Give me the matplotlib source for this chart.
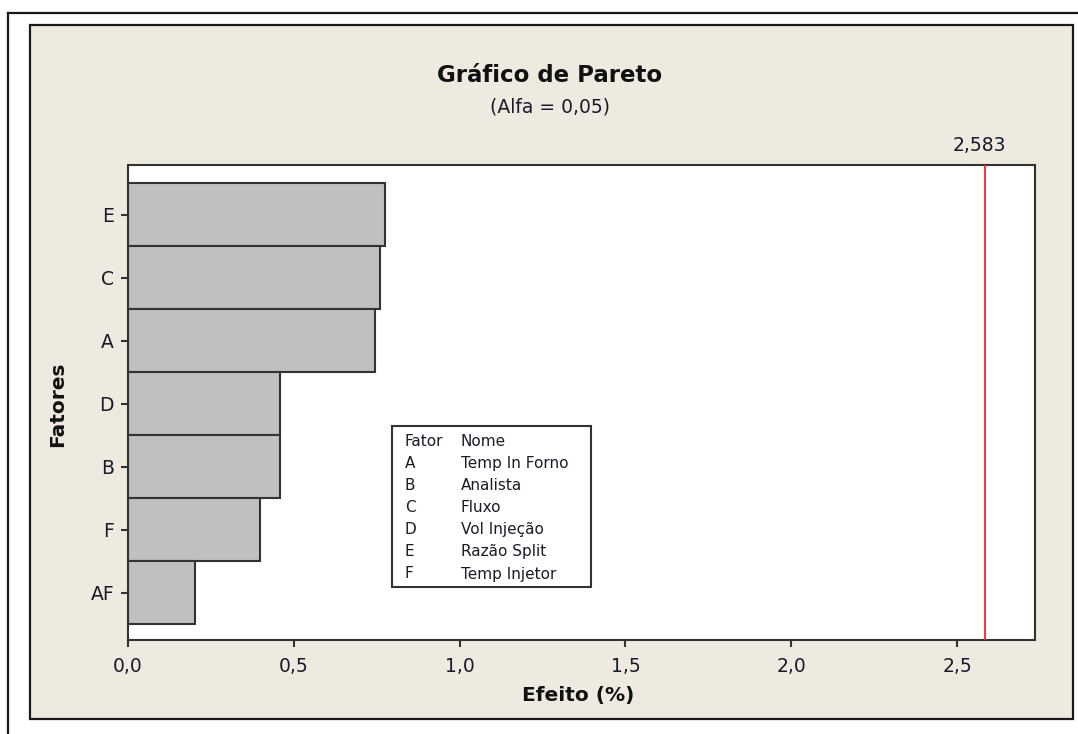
import numpy as np
import matplotlib
matplotlib.use("Agg")
import matplotlib.pyplot as plt
from matplotlib.patches import Rectangle
from matplotlib.lines import Line2D
from matplotlib.ticker import FuncFormatter

# dados
fatores = ['E', 'C', 'A', 'D', 'B', 'F', 'AF']
efeitos = [0.775, 0.76, 0.745, 0.458, 0.458, 0.398, 0.202]
limite = 2.583
legenda_fator = ['A', 'B', 'C', 'D', 'E', 'F']
legenda_nome = ['Temp In Forno', 'Analista', 'Fluxo', 'Vol Injeção', 'Razão Split', 'Temp Injetor']

W, H = 1078, 734
plt.rcParams['font.family'] = ['DejaVu Sans']

def fx(px):
    return px / W

def fy(py):
    return 1 - py / H

fig = plt.figure(figsize=(W / 100, H / 100), dpi=100)
fig.patch.set_facecolor('white')

# moldura externa e painel bege
fig.add_artist(Line2D([fx(8), fx(8)], [fy(13), 0], color='#1a1a1a', lw=1.6, transform=fig.transFigure))
fig.add_artist(Line2D([fx(8), 1], [fy(13), fy(13)], color='#1a1a1a', lw=1.6, transform=fig.transFigure))
fig.add_artist(Rectangle((fx(30), fy(719)), fx(1073 - 30), (719 - 25) / H, transform=fig.transFigure,
                         facecolor='#eeeae0', edgecolor='#1a1a1a', lw=1.6, zorder=0))

ax = fig.add_axes([fx(128), fy(640), fx(1035 - 128), (640 - 165) / H])
ax.set_facecolor('white')

pos = np.arange(len(fatores))[::-1]
ax.barh(pos, efeitos, height=1.0, color='#c0c0c0', edgecolor='#333333', linewidth=1.5, zorder=2)
ax.axvline(limite, color='#ff2020', lw=1.3, zorder=3)
ax.annotate(f'{limite:.3f}'.replace('.', ','), xy=(limite, 6.95), xytext=(-4, 0),
            textcoords='offset points', ha='center', va='bottom', fontsize=13.5,
            color='#1a1a2a', annotation_clip=False)

ax.set_xlim(0, 2.735)
ax.set_ylim(-0.754, 6.786)
ax.set_yticks(pos)
ax.set_yticklabels(fatores)
ax.set_xticks([0, 0.5, 1.0, 1.5, 2.0, 2.5])
ax.xaxis.set_major_formatter(FuncFormatter(lambda v, p: f'{v:.1f}'.replace('.', ',')))
ax.tick_params(axis='both', direction='out', length=5, width=1.5, color='#333333',
               labelsize=13.5, labelcolor='#1a1a2a')
ax.tick_params(axis='x', pad=7)
ax.tick_params(axis='y', pad=5)
for s in ax.spines.values():
    s.set_color('#333333')
    s.set_linewidth(1.5)

# caixa da legenda
fig.add_artist(Rectangle((fx(392), fy(587)), fx(591 - 392), (587 - 426) / H, transform=fig.transFigure,
                         facecolor='white', edgecolor='#333333', lw=1.5, zorder=5))
fig.text(fx(405), fy(441), 'Fator', fontsize=11, va='center', ha='left', color='#1a1a2a', zorder=6)
fig.text(fx(461), fy(441), 'Nome', fontsize=11, va='center', ha='left', color='#1a1a2a', zorder=6)
for i, (f, n) in enumerate(zip(legenda_fator, legenda_nome)):
    yy = 463 + i * 22.2
    fig.text(fx(405), fy(yy), f, fontsize=11, va='center', ha='left', color='#1a1a2a', zorder=6)
    fig.text(fx(461), fy(yy), n, fontsize=11, va='center', ha='left', color='#1a1a2a', zorder=6)

# titulos
fig.text(fx(550), fy(75), 'Gráfico de Pareto', fontsize=16.5, fontweight='bold', ha='center', va='center',
         color='#111111')
fig.text(fx(550), fy(107), '(Alfa = 0,05)', fontsize=13.5, ha='center', va='center', color='#1a1a2a')
fig.text(fx(578), fy(696), 'Efeito (%)', fontsize=14.5, fontweight='bold', ha='center', va='center',
         color='#111111')
fig.text(fx(58), fy(404), 'Fatores', fontsize=14.5, fontweight='bold', ha='center', va='center',
         rotation=90, color='#111111')

fig.savefig('out.png', dpi=100)
